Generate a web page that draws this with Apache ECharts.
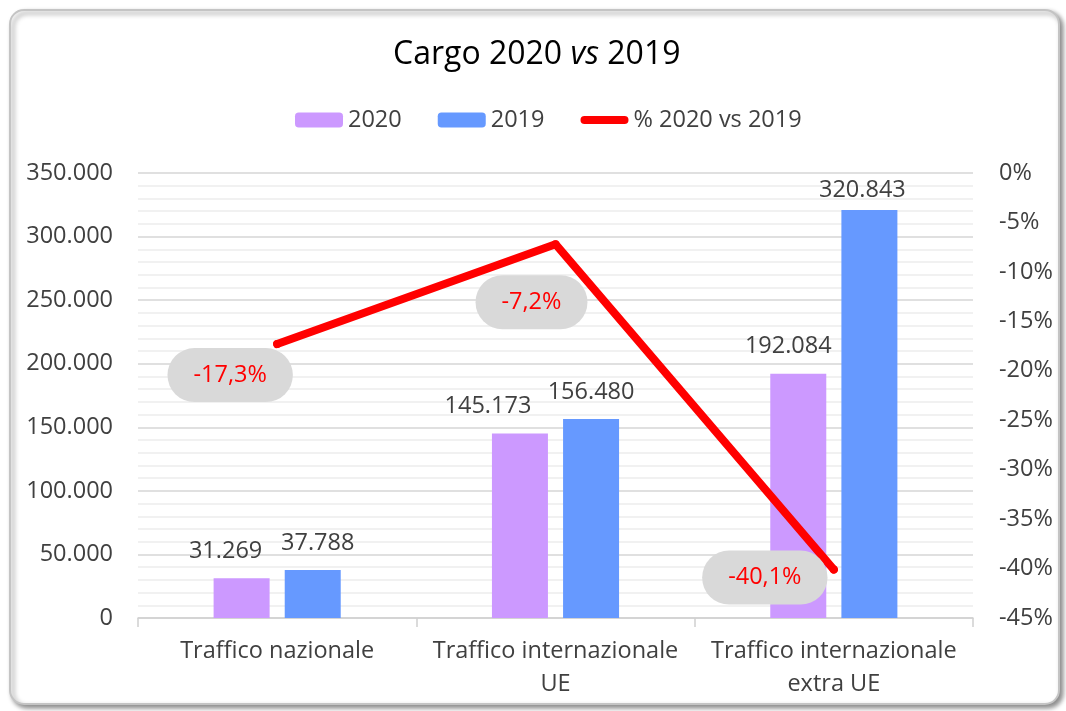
<!DOCTYPE html>
<html>
<head>
<meta charset="utf-8">
<script src="https://cdn.jsdelivr.net/npm/echarts@6/dist/echarts.min.js"></script>
<style>
  html, body { margin: 0; padding: 0; background: #fff; }
  #charts_main { width: 1066px; height: 711px; }
</style>
</head>
<body>
<div id="charts_main"></div>
<script>
// dati
const categories = ['Traffico nazionale', 'Traffico internazionale\nUE', 'Traffico internazionale\nextra UE'];
const cargo2020 = [31269, 145173, 192084];
const cargo2019 = [37788, 156480, 320843];
const variazione = [-17.3, -7.2, -40.1];

const FONT = '"Open Sans", "Noto Sans", sans-serif';
const TXT = '#404040';
const FS = 23.5;

// 350000 -> "350.000"
const fmt_thousands = (v) => String(v).replace(/\B(?=(\d{3})+(?!\d))/g, '.');

// spostamenti delle etichette (spostate a mano nell'originale)
const label_offsets = [[-47, 31], [-24, 58], [-69, 8]];
const offsets_2020 = [[-16, 0], [-32, 0], [-10, 0]];
const offsets_2019 = [[5, 0], [0, 0], [-7, 7]];

const bar_label = {
  show: true,
  position: 'top',
  distance: 15,
  fontSize: FS,
  color: TXT,
  fontFamily: FONT,
  formatter: (p) => fmt_thousands(p.value)
};

const Chart = echarts.init(document.getElementById('charts_main'));

const chart_option = {
  animation: false,
  textStyle: { fontFamily: FONT },
  graphic: [{
    type: 'rect',
    z: -100,
    silent: true,
    shape: { x: 10, y: 10, width: 1049, height: 694, r: 14 },
    style: {
      fill: '#fff',
      stroke: '#c4c4c4',
      lineWidth: 2,
      shadowBlur: 5,
      shadowOffsetX: 3,
      shadowOffsetY: 3,
      shadowColor: 'rgba(0,0,0,0.45)'
    }
  }],
  title: {
    left: 388,
    top: 34,
    text: '{a|Cargo 2020 }{b|vs}{a| 2019}',
    textStyle: {
      fontWeight: 'normal',
      rich: {
        a: { fontSize: 32, color: '#000', fontFamily: FONT, fontWeight: 'normal' },
        b: { fontSize: 32, color: '#000', fontFamily: FONT, fontWeight: 'normal', fontStyle: 'italic' }
      }
    }
  },
  legend: {
    top: 103,
    left: 290,
    itemWidth: 48,
    itemHeight: 15,
    itemGap: 36,
    textStyle: { fontSize: FS, color: TXT, fontFamily: FONT },
    data: [
      '2020',
      '2019',
      { name: '% 2020 vs 2019', icon: 'path://M4,0 H44 A4,4 0 0 1 44,8 H4 A4,4 0 0 1 4,0 Z' }
    ]
  },
  grid: {
    left: 138,
    right: 93,
    top: 173,
    bottom: 93,
    containLabel: false
  },
  xAxis: {
    type: 'category',
    data: categories,
    axisLine: { lineStyle: { color: '#d0d0d0', width: 1.5 } },
    axisTick: { show: true, length: 9, lineStyle: { color: '#d0d0d0', width: 1.5 } },
    axisLabel: { interval: 0, fontSize: FS, color: TXT, lineHeight: 33, margin: 17, fontFamily: FONT }
  },
  yAxis: [
    {
      type: 'value',
      min: 0,
      max: 350000,
      interval: 50000,
      axisLine: { show: false },
      axisTick: { show: false },
      axisLabel: { fontSize: FS, color: TXT, margin: 25, fontFamily: FONT, formatter: fmt_thousands },
      splitLine: { lineStyle: { color: '#d6d6d6', width: 1.5 } },
      minorTick: { show: false, splitNumber: 5 },
      minorSplitLine: { show: true, lineStyle: { color: '#ededed', width: 1.5 } }
    },
    {
      type: 'value',
      min: -45,
      max: 0,
      interval: 5,
      axisLine: { show: false },
      axisTick: { show: false },
      splitLine: { show: false },
      axisLabel: { fontSize: FS, color: TXT, margin: 26, fontFamily: FONT, formatter: (v) => v + '%' }
    }
  ],
  series: [
    {
      name: '2020',
      type: 'bar',
      barWidth: 56,
      barGap: '27%',
      itemStyle: { color: '#cc99ff' },
      label: bar_label,
      data: cargo2020.map((v, i) => ({ value: v, label: { offset: offsets_2020[i] } }))
    },
    {
      name: '2019',
      type: 'bar',
      barWidth: 56,
      itemStyle: { color: '#6699ff' },
      label: bar_label,
      data: cargo2019.map((v, i) => ({ value: v, label: { offset: offsets_2019[i] } }))
    },
    {
      name: '% 2020 vs 2019',
      type: 'line',
      yAxisIndex: 1,
      z: 5,
      symbol: 'circle',
      symbolSize: 8,
      itemStyle: { color: '#ff0000' },
      lineStyle: { color: '#ff0000', width: 8, cap: 'round', join: 'round' },
      label: {
        show: true,
        position: 'inside',
        fontSize: FS,
        color: '#ff0000',
        fontFamily: FONT,
        backgroundColor: '#d9d9d9',
        padding: [15, 26],
        borderRadius: 30,
        formatter: (p) => String(p.value).replace('.', ',') + '%'
      },
      data: variazione.map((v, i) => ({ value: v, label: { offset: label_offsets[i] } }))
    }
  ]
};

Chart.setOption(chart_option);
</script>
</body>
</html>
